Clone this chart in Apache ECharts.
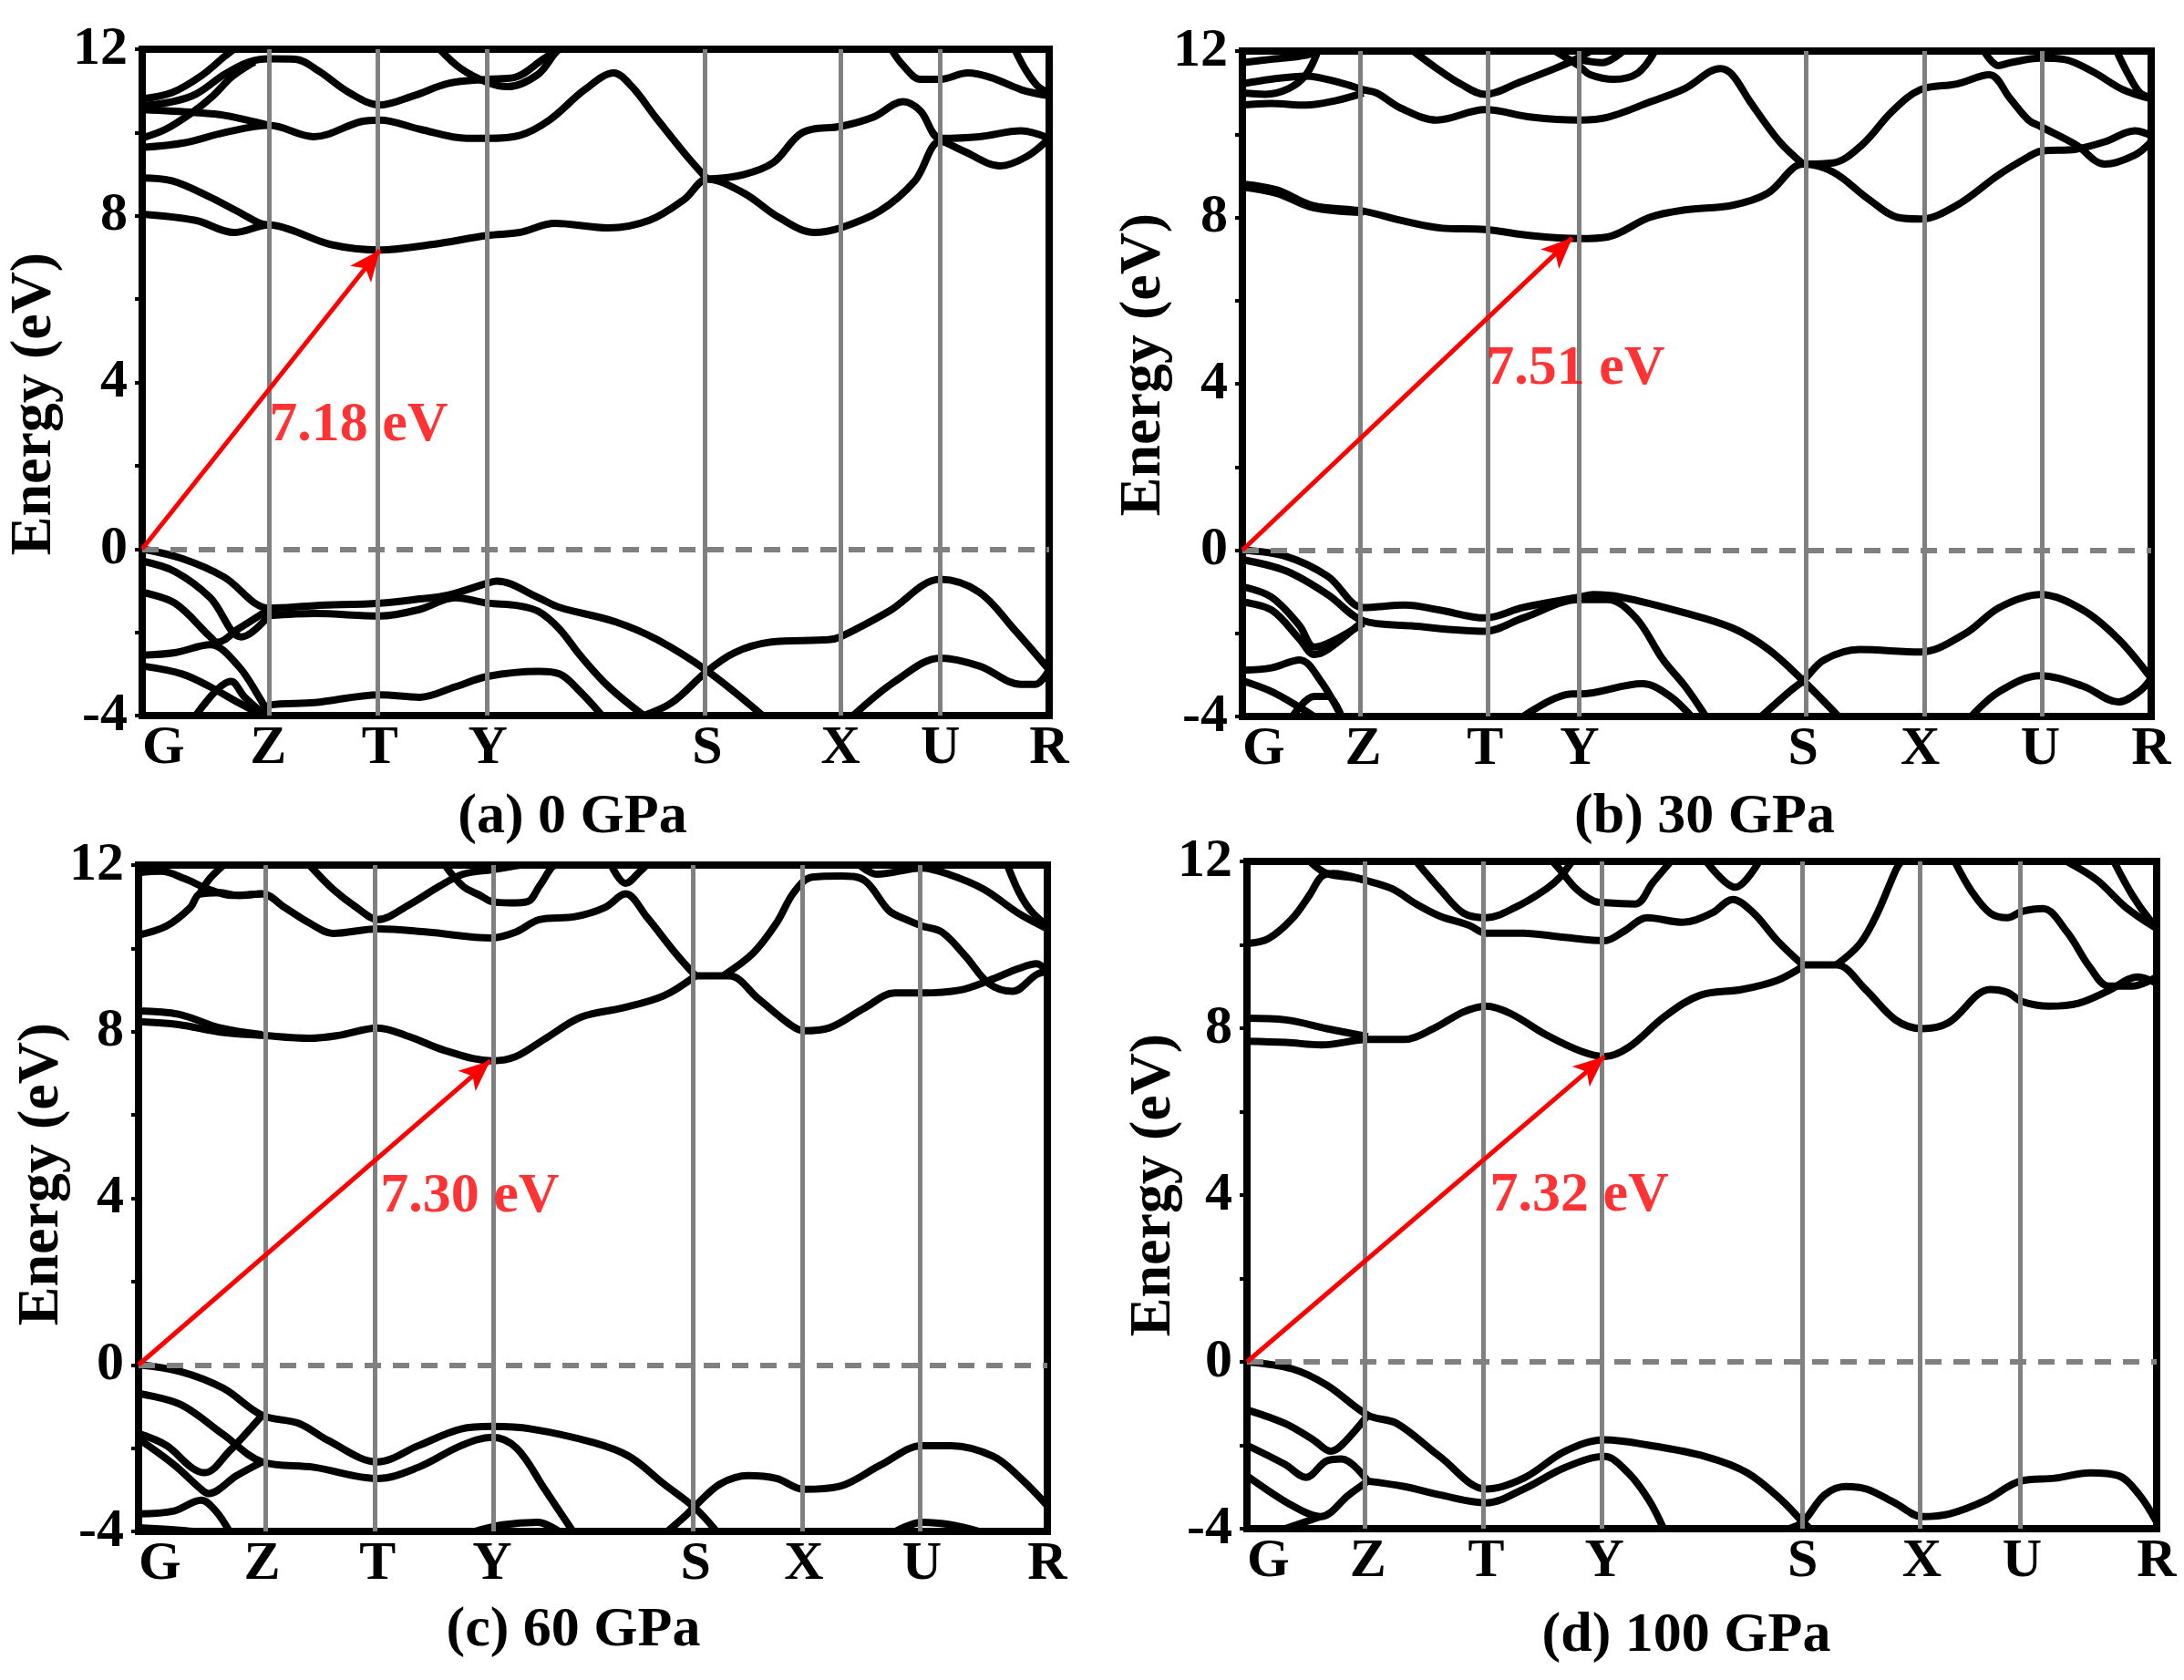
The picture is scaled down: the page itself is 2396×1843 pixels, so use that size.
<!DOCTYPE html>
<html>
<head>
<meta charset="utf-8">
<script src="https://cdn.jsdelivr.net/npm/echarts@6/dist/echarts.min.js"></script>
<style>
html,body{margin:0;padding:0;background:#fff;}
#chart{width:2396px;height:1843px;}
</style>
</head>
<body>
<div id="chart"></div>
<script>
// ---------------- DATA ----------------
const kLabels = ['G','Z','T','Y','S','X','U','R'];
const yTicks = [-4, 0, 4, 8, 12];
const captions = ['(a) 0 GPa', '(b) 30 GPa', '(c) 60 GPa', '(d) 100 GPa'];
const gapValues = [7.18, 7.51, 7.30, 7.32];
// path position of the conduction band minimum (arrow tip) per panel
const cbmPos = [0.262, 0.363, 0.387, 0.393];

// high-symmetry point positions along the path (fraction of path)
const kA = [0, 0.139, 0.262, 0.381, 0.623, 0.770, 0.880, 1];
const kB = [0, 0.133, 0.267, 0.371, 0.617, 0.746, 0.878, 1];
const kC = [0, 0.136, 0.263, 0.389, 0.613, 0.732, 0.862, 1];
const kD = [0, 0.133, 0.263, 0.393, 0.611, 0.742, 0.852, 1];

// bands: each entry is one polyline of [path position, energy eV]
const aBands = [
 [[0,8.04],[0.059,7.89],[0.101,7.6],[0.140,7.78],[0.163,7.67],[0.208,7.31],[0.262,7.18],[0.319,7.31],[0.381,7.53],[0.416,7.6],[0.455,7.82],[0.514,7.71],[0.559,7.89],[0.598,8.4],[0.623,8.88],[0.663,8.55],[0.702,7.96],[0.741,7.6],[0.770,7.71],[0.813,8.11],[0.852,8.84],[0.880,9.79],[0.904,9.57],[0.946,9.2],[0.975,9.42],[1,9.86]],
 [[0,8.91],[0.033,8.84],[0.072,8.48],[0.104,8.12],[0.130,7.82],[0.140,7.78]],
 [[0.623,8.88],[0.663,8.99],[0.696,9.28],[0.728,10.0],[0.771,10.15],[0.806,10.37],[0.839,10.74],[0.858,10.52],[0.880,9.86],[0.923,9.9],[0.969,10.04],[1,9.86]],
 [[0,9.64],[0.046,9.75],[0.091,10.0],[0.140,10.17],[0.189,9.9],[0.241,10.26],[0.262,10.3],[0.306,10.08],[0.358,9.86],[0.381,9.86],[0.416,9.93],[0.449,10.3],[0.488,11.03],[0.520,11.43],[0.540,11.1],[0.566,10.37],[0.598,9.5],[0.623,8.88]],
 [[0,10.55],[0.059,10.48],[0.091,10.41],[0.140,10.17]],
 [[0,10.81],[0.033,10.96],[0.065,11.36],[0.091,11.83],[0.101,12]],
 [[0,10.65],[0.033,10.74],[0.059,10.92],[0.091,11.4],[0.117,11.69],[0.140,11.77],[0.169,11.76],[0.195,11.47],[0.228,10.96],[0.262,10.66],[0.299,10.88],[0.338,11.18],[0.381,11.28],[0.410,11.32],[0.442,11.76],[0.458,12]],
 [[0,9.87],[0.026,10.08],[0.055,10.48],[0.078,10.88],[0.098,11.32],[0.117,11.61],[0.124,11.69]],
 [[0.328,12],[0.351,11.54],[0.381,11.2],[0.403,11.1],[0.436,11.39],[0.455,11.9],[0.46,12]],
 [[0.826,12],[0.839,11.61],[0.858,11.28],[0.880,11.28],[0.91,11.43],[0.936,11.32],[0.969,11.03],[1,10.88]],
 [[0.962,12],[0.975,11.47],[0.988,11.1],[1,10.96]],
 [[0,0],[0.044,-0.23],[0.09,-0.67],[0.14,-1.42],[0.19,-1.36],[0.262,-1.3],[0.306,-1.2],[0.337,-1.11],[0.381,-0.82],[0.391,-0.77],[0.437,-1.17],[0.46,-1.4],[0.522,-1.75],[0.568,-2.18],[0.623,-2.93],[0.684,-4]],
 [[0.14,-1.6],[0.19,-1.55],[0.262,-1.61],[0.306,-1.45],[0.345,-1.17],[0.381,-1.3],[0.414,-1.36],[0.437,-1.5],[0.46,-1.92],[0.483,-2.56],[0.514,-3.3],[0.553,-4]],
 [[0,-0.29],[0.036,-0.54],[0.075,-1.17],[0.109,-2.11],[0.121,-2.0],[0.14,-1.6]],
 [[0,-1.04],[0.036,-1.3],[0.075,-2.11],[0.083,-2.24],[0.106,-1.92],[0.14,-1.45]],
 [[0,-2.55],[0.036,-2.49],[0.075,-2.3],[0.106,-2.81],[0.129,-3.56],[0.14,-4]],
 [[0,-2.81],[0.044,-3.0],[0.075,-3.31],[0.106,-3.69],[0.133,-4]],
 [[0.059,-4],[0.098,-3.18],[0.113,-3.56],[0.136,-4]],
 [[0.129,-4],[0.14,-3.75],[0.19,-3.69],[0.262,-3.5],[0.306,-3.56],[0.345,-3.31],[0.381,-3.06],[0.437,-2.94],[0.46,-3.0],[0.483,-3.43],[0.507,-4]],
 [[0.553,-4],[0.584,-3.69],[0.623,-2.93],[0.653,-2.49],[0.692,-2.24],[0.757,-2.18],[0.770,-2.11],[0.823,-1.5],[0.880,-0.73],[0.923,-1.04],[0.961,-1.92],[1,-2.9]],
 [[0.784,-4],[0.83,-3.18],[0.880,-2.62],[0.923,-2.81],[0.969,-3.25],[0.985,-3.25],[1,-2.9]]
];

const bBands = [
 [[0,8.8],[0.038,8.66],[0.077,8.29],[0.133,8.15],[0.174,7.93],[0.22,7.74],[0.267,7.71],[0.318,7.56],[0.371,7.49],[0.402,7.53],[0.448,8.0],[0.487,8.18],[0.539,8.29],[0.578,8.58],[0.617,9.28],[0.65,9.09],[0.689,8.44],[0.721,8.0],[0.746,7.96],[0.786,8.29],[0.832,9.02],[0.865,9.46],[0.878,9.59],[0.917,9.64],[0.949,9.82],[0.982,10.08],[1,9.97]],
 [[0,8.73],[0.038,8.58],[0.077,8.24],[0.133,8.12]],
 [[0.617,9.28],[0.65,9.31],[0.682,9.75],[0.715,10.55],[0.746,11.07],[0.786,11.21],[0.822,11.43],[0.845,10.85],[0.865,10.34],[0.878,10.19],[0.917,9.75],[0.949,9.28],[0.982,9.5],[1,9.82]],
 [[0,11.21],[0.031,11.32],[0.07,11.4],[0.109,11.23],[0.133,11.07],[0.148,10.99],[0.174,10.63],[0.214,10.34],[0.267,10.59],[0.318,10.41],[0.371,10.34],[0.402,10.41],[0.448,10.77],[0.487,11.1],[0.526,11.58],[0.539,11.43],[0.559,10.77],[0.591,9.82],[0.617,9.28]],
 [[0,10.7],[0.031,10.74],[0.07,10.7],[0.103,10.81],[0.133,10.99]],
 [[0,10.99],[0.025,10.96],[0.051,11.1],[0.07,11.43],[0.083,12]],
 [[0,11.72],[0.031,11.8],[0.07,11.9],[0.08,12]],
 [[0.188,12],[0.214,11.58],[0.24,11.21],[0.267,10.96],[0.305,11.25],[0.344,11.58],[0.363,11.76],[0.383,12]],
 [[0.344,12],[0.37,11.65],[0.383,11.43],[0.409,11.32],[0.435,11.47],[0.454,12]],
 [[0.37,11.8],[0.396,11.72],[0.419,12]],
 [[0.816,12],[0.832,11.65],[0.845,11.72],[0.878,11.83],[0.904,11.8],[0.936,11.5],[0.969,11.07],[1,10.85]],
 [[0.962,12],[0.975,11.43],[0.988,10.99],[1,10.88]],
 [[0,0],[0.048,-0.15],[0.094,-0.63],[0.133,-1.38],[0.179,-1.32],[0.217,-1.44],[0.267,-1.63],[0.309,-1.38],[0.371,-1.13],[0.386,-1.07],[0.417,-1.13],[0.487,-1.51],[0.54,-1.88],[0.579,-2.39],[0.617,-3.14],[0.656,-4]],
 [[0,-0.23],[0.048,-0.5],[0.094,-1.07],[0.133,-1.7],[0.186,-1.82],[0.267,-1.95],[0.309,-1.63],[0.371,-1.19],[0.402,-1.19],[0.433,-1.63],[0.463,-2.64],[0.487,-3.27],[0.51,-4]],
 [[0,-0.88],[0.032,-1.13],[0.063,-1.82],[0.079,-2.33],[0.098,-2.2],[0.133,-1.76]],
 [[0,-1.25],[0.032,-1.44],[0.063,-2.14],[0.079,-2.51],[0.094,-2.39],[0.133,-1.7]],
 [[0,-2.89],[0.032,-2.83],[0.063,-2.64],[0.086,-3.14],[0.109,-4]],
 [[0,-3.14],[0.032,-3.4],[0.063,-3.78],[0.079,-4]],
 [[0.055,-4],[0.079,-3.52],[0.094,-3.52],[0.109,-4]],
 [[0.309,-4],[0.363,-3.46],[0.371,-3.46],[0.44,-3.21],[0.471,-3.52],[0.494,-4]],
 [[0.571,-4],[0.602,-3.4],[0.617,-3.14],[0.64,-2.64],[0.679,-2.39],[0.746,-2.45],[0.795,-2.01],[0.833,-1.38],[0.878,-1.07],[0.925,-1.44],[0.964,-2.14],[1,-3.08]],
 [[0.802,-4],[0.833,-3.4],[0.878,-3.02],[0.925,-3.27],[0.964,-3.65],[0.987,-3.4],[1,-3.08]]
];

const cBands = [
 [[0,8.24],[0.044,8.17],[0.09,7.99],[0.136,7.91],[0.188,7.84],[0.22,7.91],[0.263,8.09],[0.298,7.88],[0.337,7.55],[0.389,7.3],[0.415,7.4],[0.448,7.84],[0.487,8.35],[0.533,8.57],[0.578,8.86],[0.613,9.34]],
 [[0,8.5],[0.044,8.42],[0.09,8.09],[0.136,7.93]],
 [[0.613,9.34],[0.65,9.34],[0.682,8.79],[0.715,8.2],[0.732,8.02],[0.76,8.09],[0.799,8.57],[0.832,8.93],[0.862,8.93],[0.904,9.0],[0.936,9.23],[0.969,9.52],[0.988,9.63],[1,9.45]],
 [[0.643,9.34],[0.676,9.88],[0.702,10.61],[0.721,11.34],[0.741,11.71],[0.773,11.74],[0.799,11.63],[0.826,10.9],[0.845,10.69],[0.862,10.54],[0.884,10.39],[0.91,9.81],[0.936,9.15],[0.962,8.97],[0.988,9.37],[1,9.45]],
 [[0,10.32],[0.031,10.54],[0.057,10.98],[0.067,11.3],[0.09,11.34],[0.109,11.27],[0.136,11.31],[0.161,10.98],[0.188,10.61],[0.214,10.36],[0.263,10.47],[0.318,10.39],[0.389,10.25],[0.415,10.39],[0.441,10.69],[0.48,10.76],[0.513,10.98],[0.536,11.31],[0.559,10.76],[0.591,9.88],[0.613,9.34]],
 [[0,11.82],[0.025,11.85],[0.051,11.67],[0.077,11.42],[0.103,11.27],[0.136,11.31]],
 [[0.067,11.3],[0.077,11.64],[0.09,11.93],[0.094,12]],
 [[0.188,12],[0.214,11.42],[0.24,10.98],[0.263,10.69],[0.298,11.05],[0.331,11.49],[0.357,11.78],[0.389,11.89],[0.409,11.96],[0.42,12]],
 [[0.337,12],[0.357,11.49],[0.376,11.27],[0.389,11.12],[0.409,11.09],[0.428,11.12],[0.441,11.49],[0.454,11.93],[0.458,12]],
 [[0.52,12],[0.536,11.56],[0.552,11.85],[0.559,12]],
 [[0.793,12],[0.813,11.78],[0.862,11.93],[0.891,11.78],[0.93,11.42],[0.969,10.83],[1,10.47]],
 [[0.956,12],[0.969,11.34],[0.982,10.9],[1,10.54]],
 [[0,0],[0.046,-0.16],[0.093,-0.56],[0.136,-1.21],[0.177,-1.41],[0.208,-1.81],[0.263,-2.33],[0.308,-1.94],[0.355,-1.54],[0.389,-1.48],[0.432,-1.54],[0.501,-1.87],[0.54,-2.2],[0.578,-2.86],[0.613,-3.45],[0.636,-4]],
 [[0,-0.69],[0.046,-0.95],[0.093,-1.67],[0.136,-2.33],[0.193,-2.46],[0.263,-2.73],[0.308,-2.46],[0.355,-1.94],[0.389,-1.74],[0.416,-2.0],[0.447,-2.99],[0.478,-4]],
 [[0,-1.65],[0.031,-1.94],[0.058,-2.46],[0.073,-2.59],[0.1,-2.07],[0.136,-1.21]],
 [[0,-1.78],[0.039,-2.4],[0.069,-2.99],[0.077,-3.09],[0.108,-2.66],[0.136,-2.33]],
 [[0,-3.58],[0.039,-3.51],[0.069,-3.25],[0.085,-3.51],[0.1,-4]],
 [[0,-3.91],[0.046,-3.97],[0.06,-4]],
 [[0.37,-4],[0.401,-3.84],[0.439,-3.78],[0.463,-4]],
 [[0.582,-4],[0.601,-3.64],[0.613,-3.38],[0.64,-2.86],[0.671,-2.66],[0.702,-2.73],[0.732,-2.99],[0.771,-2.92],[0.817,-2.4],[0.862,-1.94],[0.894,-1.94],[0.941,-2.2],[0.971,-2.73],[1,-3.38]],
 [[0.833,-4],[0.862,-3.78],[0.894,-3.84],[0.925,-4]]
];

const dBands = [
 [[0,7.69],[0.043,7.66],[0.082,7.6],[0.133,7.73],[0.173,7.73],[0.205,7.99],[0.238,8.39],[0.263,8.53],[0.29,8.35],[0.329,7.84],[0.368,7.44],[0.393,7.32],[0.42,7.55],[0.459,8.28],[0.498,8.79],[0.544,8.93],[0.583,9.15],[0.611,9.48]],
 [[0,8.24],[0.043,8.2],[0.088,7.99],[0.133,7.8]],
 [[0.611,9.52],[0.648,9.52],[0.68,8.93],[0.713,8.2],[0.742,7.99],[0.771,8.13],[0.817,8.93],[0.836,8.86],[0.852,8.64],[0.882,8.53],[0.914,8.6],[0.947,8.9],[0.979,9.23],[1,9.08]],
 [[0.648,9.52],[0.674,10.03],[0.693,10.76],[0.713,11.78],[0.719,12]],
 [[0.778,12],[0.797,11.27],[0.817,10.76],[0.836,10.65],[0.852,10.8],[0.875,10.87],[0.901,10.32],[0.927,9.45],[0.947,9.01],[0.973,9.01],[1,9.23]],
 [[0,10.03],[0.023,10.14],[0.049,10.61],[0.069,11.2],[0.082,11.64],[0.095,11.71],[0.133,11.53],[0.16,11.34],[0.186,10.98],[0.212,10.69],[0.244,10.47],[0.263,10.28],[0.303,10.28],[0.349,10.18],[0.393,10.1],[0.414,10.32],[0.44,10.65],[0.479,10.54],[0.511,10.76],[0.534,11.09],[0.557,10.76],[0.583,10.1],[0.611,9.52]],
 [[0.069,12],[0.088,11.71],[0.12,11.6],[0.133,11.53]],
 [[0.186,12],[0.212,11.34],[0.238,10.76],[0.263,10.65],[0.296,10.91],[0.329,11.34],[0.345,11.64],[0.355,11.93],[0.358,12]],
 [[0.336,12],[0.345,11.78],[0.362,11.34],[0.381,11.05],[0.393,11.01],[0.427,10.98],[0.446,11.49],[0.466,12]],
 [[0.505,12],[0.537,11.38],[0.563,12]],
 [[0.901,12],[0.934,11.56],[0.966,10.9],[1,10.39]],
 [[0.953,12],[0.973,11.2],[0.992,10.61],[1,10.47]],
 [[0,0],[0.05,-0.17],[0.088,-0.56],[0.133,-1.28],[0.165,-1.48],[0.212,-2.27],[0.263,-3.05],[0.304,-2.79],[0.35,-2.14],[0.393,-1.87],[0.442,-2.0],[0.504,-2.27],[0.55,-2.66],[0.588,-3.32],[0.611,-3.84],[0.619,-4]],
 [[0.133,-2.86],[0.173,-2.99],[0.212,-3.19],[0.263,-3.38],[0.304,-3.05],[0.35,-2.53],[0.393,-2.27],[0.419,-2.66],[0.442,-3.32],[0.458,-4]],
 [[0,-1.15],[0.042,-1.48],[0.073,-1.87],[0.092,-2.14],[0.104,-2.0],[0.133,-1.28]],
 [[0,-2.0],[0.042,-2.46],[0.065,-2.77],[0.088,-2.37],[0.104,-2.33],[0.133,-2.86]],
 [[0,-2.73],[0.05,-3.45],[0.081,-3.71],[0.112,-3.19],[0.133,-2.86]],
 [[0.042,-4],[0.081,-3.71]],
 [[0.596,-4],[0.611,-3.84],[0.635,-3.19],[0.658,-2.99],[0.681,-3.05],[0.712,-3.38],[0.742,-3.71],[0.773,-3.64],[0.812,-3.32],[0.85,-2.86],[0.888,-2.79],[0.927,-2.66],[0.958,-2.73],[0.981,-3.19],[1,-3.84]]
];

// ---------------- LAYOUT / STYLE ----------------
const FONT = '"Liberation Serif", "Times New Roman", serif';
const layout = [
  {left:156, top:54, width:995, height:731, cap:[628,897], eLab:[38,443], gapLab:[0.14,2.95]},
  {left:1363, top:56, width:997, height:730, cap:[1870,897], eLab:[1255,400], gapLab:[0.268,4.35]},
  {left:152, top:949, width:997, height:731, cap:[629,1789], eLab:[46,1288], gapLab:[0.266,4.04]},
  {left:1368, top:945, width:998, height:732, cap:[1850,1795], eLab:[1266,1300], gapLab:[0.267,3.97]}
];
const kSets = [kA, kB, kC, kD];
const bandSets = [aBands, bBands, cBands, dBands];

const grids = [], xAxes = [], yAxes = [], series = [], graphics = [];

layout.forEach((L, i) => {
  grids.push({left:L.left, top:L.top, width:L.width, height:L.height, show:true,
    borderColor:'#000', borderWidth:8, backgroundColor:'transparent', containLabel:false});
  const ks = kSets[i];
  xAxes.push({type:'value', gridIndex:i, min:0, max:1,
    axisLine:{show:false}, axisTick:{show:false}, splitLine:{show:false},
    axisLabel:{show:true, customValues:ks, formatter:(v, idx) => {
        const j = ks.findIndex(k => Math.abs(k - v) < 1e-6);
        return j >= 0 ? kLabels[j] : '';
      },
      fontFamily:FONT, fontWeight:'bold', fontSize:60, color:'#000', margin:6,
      alignMinLabel:'left', alignMaxLabel:'center', showMinLabel:true, showMaxLabel:true, hideOverlap:false}
  });
  yAxes.push({type:'value', gridIndex:i, min:yTicks[0], max:yTicks[yTicks.length-1], interval:4,
    axisLine:{show:false}, splitLine:{show:false},
    axisTick:{show:true, length:8, lineStyle:{color:'#000', width:4}},
    minorTick:{show:true, splitNumber:2, length:8, lineStyle:{color:'#000', width:4}},
    axisLabel:{fontFamily:FONT, fontWeight:'bold', fontSize:60, color:'#000', margin:16}
  });
  // high-symmetry vertical lines and the dashed Fermi level
  series.push({type:'line', xAxisIndex:i, yAxisIndex:i, data:[], symbol:'none', silent:true, z:1,
    markLine:{silent:true, symbol:['none','none'], label:{show:false}, animation:false,
      lineStyle:{color:'#808080', width:5, type:'solid'},
      data: ks.slice(1, ks.length-1).map(k => ({xAxis:k}))}
  });
  series.push({type:'line', xAxisIndex:i, yAxisIndex:i, data:[], symbol:'none', silent:true, z:2,
    markLine:{silent:true, symbol:['none','none'], label:{show:false}, animation:false,
      lineStyle:{color:'#808080', width:6, type:[18,13]},
      data:[{yAxis:0}]}
  });
  // bands
  bandSets[i].forEach(b => {
    series.push({type:'line', xAxisIndex:i, yAxisIndex:i, data:b, smooth:0.35, symbol:'none',
      silent:true, z:3, lineStyle:{color:'#000', width:8}, clip:true});
  });
  // gap arrow
  series.push({type:'line', xAxisIndex:i, yAxisIndex:i, data:[], symbol:'none', silent:true, z:5,
    markLine:{silent:true, symbol:['none','arrow'], symbolSize:[22,34], label:{show:false}, animation:false,
      lineStyle:{color:'#ff0000', width:5, type:'solid'},
      data:[[{coord:[0,0]},{coord:[cbmPos[i], gapValues[i]]}]]}
  });
  // gap label
  series.push({type:'scatter', xAxisIndex:i, yAxisIndex:i, symbolSize:0, silent:true, z:6,
    data:[L.gapLab],
    label:{show:true, position:'right', distance:0,
      formatter: () => gapValues[i].toFixed(2) + ' eV',
      fontFamily:FONT, fontWeight:'bold', fontSize:62, color:'#ff0000'}
  });
  graphics.push({type:'text', x:L.cap[0], y:L.cap[1],
    style:{text:captions[i], font:'bold 62px ' + FONT, fill:'#000',
      textAlign:'center', textVerticalAlign:'middle', align:'center', verticalAlign:'middle'}});
  graphics.push({type:'text', x:L.eLab[0], y:L.eLab[1], rotation:Math.PI/2,
    style:{text:'Energy (eV)', font:'bold 64px ' + FONT, fill:'#000',
      textAlign:'center', textVerticalAlign:'middle', align:'center', verticalAlign:'middle'}});
});

const chart = echarts.init(document.getElementById('chart'), null, {renderer:'canvas'});
chart.setOption({
  animation:false,
  backgroundColor:'#fff',
  grid:grids, xAxis:xAxes, yAxis:yAxes, series:series, graphic:graphics
});
</script>
</body>
</html>
